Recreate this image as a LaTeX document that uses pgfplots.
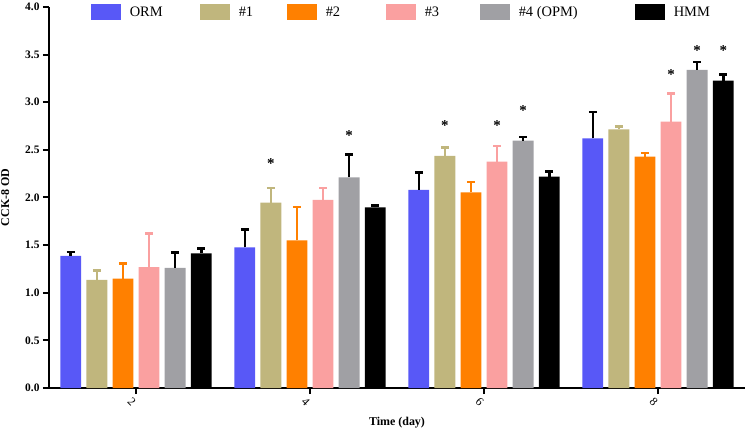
\documentclass[border=0pt]{standalone}
\usepackage{pgfplots}
\pgfplotsset{compat=1.18}
\usepackage{pgfplotstable}
\usepackage{fontspec}
\setmainfont{Liberation Serif}
\definecolor{corm}{RGB}{88,88,247}
\definecolor{cone}{RGB}{192,182,125}
\definecolor{ctwo}{RGB}{255,128,0}
\definecolor{cthree}{RGB}{250,160,160}
\definecolor{cfour}{RGB}{160,160,164}
\definecolor{chmm}{RGB}{0,0,0}
% x = day + position of the series within the group
\pgfplotstableread{
x y e
1.25 1.386 0.040
3.25 1.477 0.185
5.25 2.079 0.185
7.25 2.620 0.280
}\orm
\pgfplotstableread{
x y e
1.55 1.134 0.100
3.55 1.945 0.155
5.55 2.436 0.088
7.55 2.716 0.030
}\one
\pgfplotstableread{
x y e
1.85 1.148 0.160
3.85 1.550 0.350
5.85 2.054 0.110
7.85 2.430 0.035
}\two
\pgfplotstableread{
x y e
2.15 1.270 0.352
4.15 1.974 0.127
6.15 2.376 0.165
8.15 2.796 0.296
}\three
\pgfplotstableread{
x y e
2.45 1.260 0.163
4.45 2.210 0.240
6.45 2.597 0.038
8.45 3.340 0.080
}\four
\pgfplotstableread{
x y e
2.75 1.414 0.048
4.75 1.897 0.020
6.75 2.220 0.052
8.75 3.226 0.065
}\hmm
\begin{document}
\begin{tikzpicture}
\begin{axis}[
  name=main,
  scale only axis,
  width=696bp, height=381bp,
  xmin=1, xmax=9, ymin=0, ymax=4,
  axis lines*=left,
  axis line style={line width=2bp, -},
  every tick/.style={line width=2bp, black},
  tick align=outside,
  major tick length=6bp,
  xtick={2,4,6,8},
  ytick={0,0.5,...,4},
  minor tick num=0,
  /pgf/number format/assume math mode=true,
  yticklabel style={font=\bfseries\fontsize{11.5}{12}\selectfont,
    /pgf/number format/fixed, /pgf/number format/fixed zerofill, /pgf/number format/precision=1},
  xticklabel style={font=\fontsize{12}{12}\selectfont, rotate=-45, anchor=north west, xshift=-4bp, yshift=-1bp},
  ylabel={\bfseries CCK-8 OD},
  xlabel={\bfseries Time (day)},
  label style={font=\fontsize{12}{13}\selectfont},
  ylabel shift=9bp,
  xlabel style={at={(rel axis cs:0.5,0)}, anchor=center, yshift=-35bp},
  legend columns=6,
  legend style={draw=none, fill=none, at={(rel axis cs:0.06,0.9856)}, anchor=west,
    font=\fontsize{14.5}{15}\selectfont, inner sep=0pt, outer sep=0pt,
    column sep=0pt, nodes={inner sep=0pt}},
  legend image code/.code={\path[#1, draw=none] (0bp,-8bp) rectangle (30bp,8bp);},
  error bars/y dir=plus, error bars/y explicit,
]
\addplot[ybar, bar width=0.24, bar shift=0, fill=corm, draw=none,
  error bars/.cd, error bar style={black, line width=2.5bp}, error mark options={rotate=90, black, line width=2.5bp, mark size=4bp}]
  table[x=x, y=y, y error=e] {\orm};
\addlegendentry{\hspace{9bp}\makebox[70bp][l]{ORM}}
\addplot[ybar, bar width=0.24, bar shift=0, fill=cone, draw=none,
  error bars/.cd, error bar style={cone, line width=2.5bp}, error mark options={rotate=90, cone, line width=2.5bp, mark size=4bp}]
  table[x=x, y=y, y error=e] {\one};
\addlegendentry{\hspace{9bp}\makebox[48bp][l]{\#1}}
\addplot[ybar, bar width=0.24, bar shift=0, fill=ctwo, draw=none,
  error bars/.cd, error bar style={ctwo, line width=2.5bp}, error mark options={rotate=90, ctwo, line width=2.5bp, mark size=4bp}]
  table[x=x, y=y, y error=e] {\two};
\addlegendentry{\hspace{9bp}\makebox[60bp][l]{\#2}}
\addplot[ybar, bar width=0.24, bar shift=0, fill=cthree, draw=none,
  error bars/.cd, error bar style={cthree, line width=2.5bp}, error mark options={rotate=90, cthree, line width=2.5bp, mark size=4bp}]
  table[x=x, y=y, y error=e] {\three};
\addlegendentry{\hspace{9bp}\makebox[55bp][l]{\#3}}
\addplot[ybar, bar width=0.24, bar shift=0, fill=cfour, draw=none,
  error bars/.cd, error bar style={black, line width=2.5bp}, error mark options={rotate=90, black, line width=2.5bp, mark size=4bp}]
  table[x=x, y=y, y error=e] {\four};
\addlegendentry{\hspace{9bp}\makebox[116bp][l]{\#4 (OPM)}}
\addplot[ybar, bar width=0.24, bar shift=0, fill=chmm, draw=none,
  error bars/.cd, error bar style={black, line width=2.5bp}, error mark options={rotate=90, black, line width=2.5bp, mark size=4bp}]
  table[x=x, y=y, y error=e] {\hmm};
\addlegendentry{\hspace{9bp}HMM}
\addplot[only marks, mark=none, forget plot, nodes near coords={\textbf{*}},
  every node near coord/.style={anchor=center, inner sep=0pt, yshift=-2.5bp, font=\fontsize{15}{15}\selectfont}]
  coordinates {(3.55,2.383) (4.45,2.674) (5.55,2.779) (6.15,2.785) (6.45,2.943) (8.15,3.321) (8.45,3.573) (8.75,3.573)};
\end{axis}
\pgfresetboundingbox
\useasboundingbox ([xshift=-49bp, yshift=-42bp]main.south west) rectangle ([xshift=1bp, yshift=7bp]main.north east);
\end{tikzpicture}
\end{document}
